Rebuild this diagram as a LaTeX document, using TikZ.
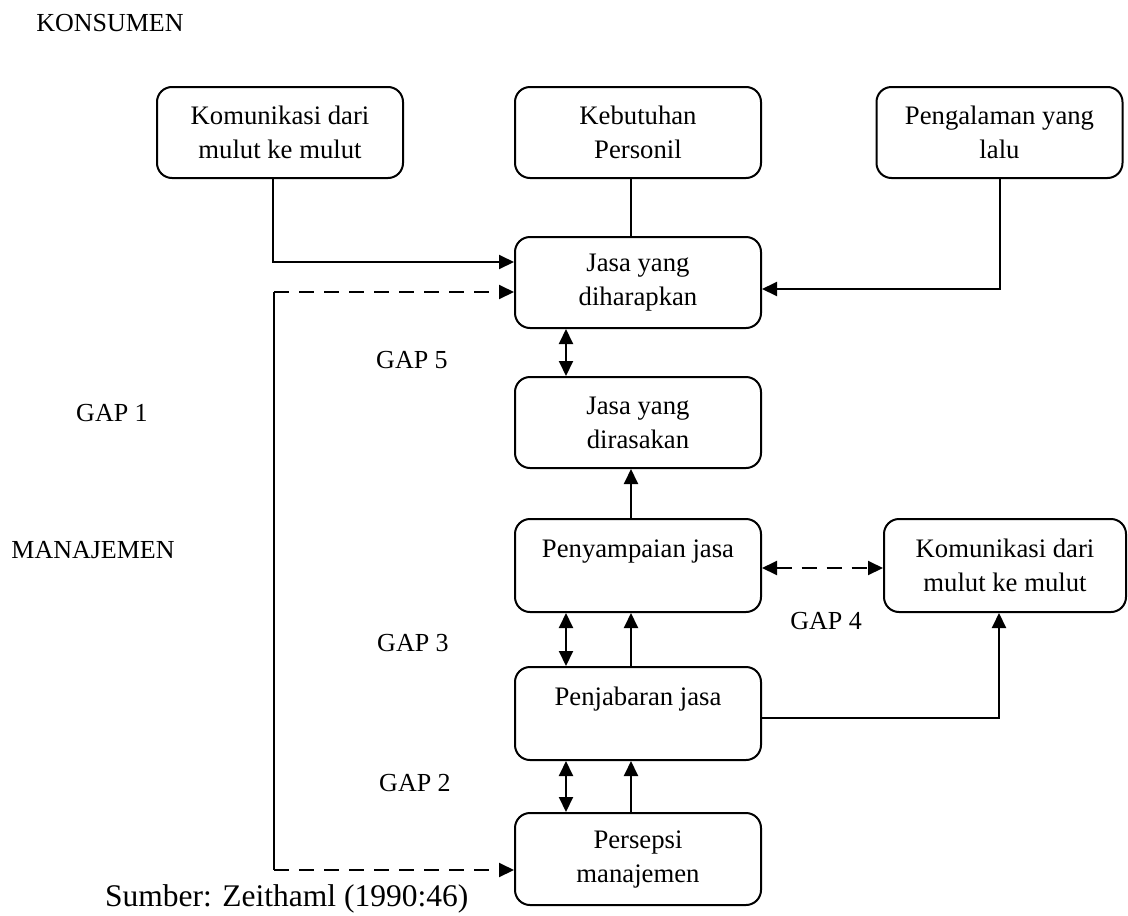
\documentclass[tikz,border=0pt]{standalone}
\usepackage{fontspec}
\setmainfont{Liberation Serif}
\usetikzlibrary{arrows.meta,calc}
\begin{document}
\begin{tikzpicture}[x=1pt,y=-1pt,
  box/.style={draw,line width=2pt,rounded corners=15pt,minimum width=246pt,minimum height=91pt,
    align=center,inner sep=0pt,font=\fontsize{26.7}{34}\selectfont},
  lbl/.style={font=\fontsize{26}{31}\selectfont,inner sep=0pt},
  conn/.style={line width=2pt},
  arr/.style={conn,-{Triangle[length=15pt,width=14pt]}},
  darr/.style={conn,{Triangle[length=15pt,width=14pt]}-{Triangle[length=15pt,width=14pt]}},
  dsh/.style={dash pattern=on 15pt off 10pt}]
\useasboundingbox (0,0) rectangle (1128,916);
% boxes
\node[box] (kom1) at (280,132.5) {Komunikasi dari\\mulut ke mulut};
\node[box] (keb) at (638,132.5) {Kebutuhan\\Personil};
\node[box] (pen) at (999.5,132.5) {Pengalaman yang\\lalu};
\node[box] (harap) at (638,282.5) {Jasa yang\\diharapkan};
\node[box] (rasa) at (638,422.5) {Jasa yang\\dirasakan};
\node[box,minimum height=93pt] (sampai) at (638,565.5) {Penyampaian jasa\\\mbox{}};
\node[box,minimum width=242pt,minimum height=93pt] (komR) at (1005,565.5) {Komunikasi dari\\mulut ke mulut};
\node[box,minimum height=93pt] (jabar) at (638,713.5) {Penjabaran jasa\\\mbox{}};
\node[box,minimum height=92pt] (persepsi) at (638,859) {Persepsi\\manajemen};
% labels
\node[lbl] (konsumen) at (110,23) {KONSUMEN};
\node[lbl] (gap5) at (412,360) {GAP 5};
\node[lbl] (gap1) at (112,413) {GAP 1};
\node[lbl] (manajemen) at (93,550) {MANAJEMEN};
\node[lbl] (gap4) at (826,621) {GAP 4};
\node[lbl] (gap3) at (413,643) {GAP 3};
\node[lbl] (gap2) at (415,783) {GAP 2};
\node[font=\fontsize{31.5}{38}\selectfont,inner sep=0pt,anchor=base west] (sumber) at (105,906) {Sumber: Zeithaml (1990:46)};
% column coordinates
\coordinate (c1) at (566,0);
\coordinate (c2) at (631,0);
\coordinate (cl) at (273,0);
\coordinate (cr) at (1000,0);
\coordinate (cr2) at (999,0);
\coordinate (dtop) at (274,292);
\coordinate (dbot) at (274,870);
% connectors
\draw[arr] (kom1.south -| cl) |- (harap.west |- 0,262);
\draw[conn] (keb.south -| c2) -- (harap.north -| c2);
\draw[arr] (pen.south -| cr) |- (harap.east |- 0,289);
\draw[conn] (dtop) -- (dbot);
\draw[arr,dsh] (dtop) -- (harap.west |- dtop);
\draw[arr,dsh] (dbot) -- (persepsi.west |- dbot);
\draw[darr] (harap.south -| c1) -- (rasa.north -| c1);
\draw[arr] (sampai.north -| c2) -- (rasa.south -| c2);
\draw[darr,dsh] (sampai.east |- 0,568) -- (komR.west |- 0,568);
\draw[darr] (jabar.north -| c1) -- (sampai.south -| c1);
\draw[arr] (jabar.north -| c2) -- (sampai.south -| c2);
\draw[arr] (jabar.east |- 0,718) -| (komR.south -| cr2);
\draw[darr] (persepsi.north -| c1) -- (jabar.south -| c1);
\draw[arr] (persepsi.north -| c2) -- (jabar.south -| c2);
\end{tikzpicture}
\end{document}
